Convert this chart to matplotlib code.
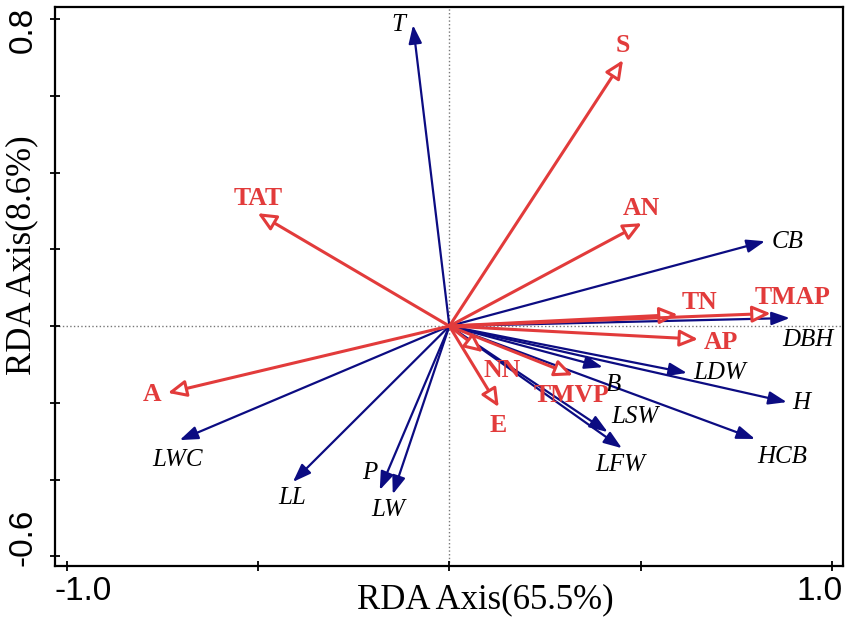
import matplotlib.pyplot as plt

# biological variables (blue, filled heads)
bio_names = ['T', 'CB', 'DBH', 'LDW', 'H', 'HCB', 'B', 'LSW', 'LFW', 'LWC', 'LL', 'P', 'LW']
bio_x = [-0.095, 0.825, 0.890, 0.621, 0.882, 0.799, 0.401, 0.414, 0.451, -0.705, -0.409, -0.182, -0.148]
bio_y = [0.784, 0.221, 0.021, -0.122, -0.198, -0.294, -0.107, -0.276, -0.318, -0.297, -0.406, -0.427, -0.438]

# environmental variables (red, open heads)
env_names = ['S', 'AN', 'TAT', 'TN', 'TMAP', 'AP', 'A', 'NN', 'E', 'TMVP']
env_x = [0.454, 0.503, -0.501, 0.597, 0.840, 0.650, -0.736, 0.088, 0.129, 0.323]
env_y = [0.693, 0.268, 0.294, 0.030, 0.033, -0.034, -0.174, -0.068, -0.211, -0.128]

x_ticks = [-1.0, -0.5, 0.0, 0.5, 1.0]
y_ticks = [-0.6, -0.4, -0.2, 0.0, 0.2, 0.4, 0.6, 0.8]
x_label = 'RDA Axis(65.5%)'
y_label = 'RDA Axis(8.6%)'

# label offsets from arrow tips (pixels)
bio_off = {'T': (-15, 0), 'CB': (23, -1), 'DBH': (18, -22), 'LDW': (33, 0), 'H': (14, -1),
           'HCB': (27, -18), 'B': (11, -18), 'LSW': (27, 15), 'LFW': (-2, -17),
           'LWC': (-2, -20), 'LL': (-1, -16), 'P': (-10, 17), 'LW': (-5, -16)}
env_off = {'S': (0, 15), 'AN': (0, 15), 'TAT': (0, 15), 'TN': (22, 12), 'TMAP': (22, 16),
           'AP': (23, -3), 'A': (-16, -2), 'NN': (19, -18), 'E': (-1, -18), 'TMVP': (-1, -20)}

blue = '#0c0c82'
red = '#e23b3b'
serif = 'Liberation Serif'
sans = 'Liberation Sans'

fig = plt.figure(figsize=(8.51, 6.24), dpi=100)
ax = fig.add_axes([0.0646, 0.0929, 0.926, 0.8958])
ax.set_xlim(-1.031, 1.029)
ax.set_ylim(-0.625, 0.831)

ax.axhline(0, color='#777777', ls=':', lw=1, zorder=1)
ax.axvline(0, color='#777777', ls=':', lw=1, zorder=1)

for name, x, y in zip(bio_names, bio_x, bio_y):
    ax.annotate('', xy=(x, y), xytext=(0, 0),
                arrowprops=dict(arrowstyle='-|>,head_length=0.55,head_width=0.2',
                                mutation_scale=20, color=blue, lw=1.6,
                                shrinkA=0, shrinkB=0), zorder=2)
    ax.annotate(name, xy=(x, y), xytext=bio_off[name], textcoords='offset pixels',
                ha='center', va='center', fontsize=18, style='italic',
                family=serif, color='black', zorder=4)

for name, x, y in zip(env_names, env_x, env_y):
    ax.annotate('', xy=(x, y), xytext=(0, 0),
                arrowprops=dict(arrowstyle='-|>,head_length=0.55,head_width=0.25',
                                mutation_scale=20, ec=red, fc='white', lw=2.2,
                                shrinkA=0, shrinkB=0), zorder=3)
    ax.annotate(name, xy=(x, y), xytext=env_off[name], textcoords='offset pixels',
                ha='center', va='center', fontsize=18.5, weight='bold',
                family=serif, color=red, zorder=4)

ax.set_xticks(x_ticks)
ax.set_yticks(y_ticks)
ax.set_xticklabels([])
ax.set_yticklabels([])
ax.tick_params(direction='inout', length=7, width=1.3)
for s in ax.spines.values():
    s.set_linewidth(1.6)

# end tick labels only, pulled inside like the original
ax.text(0.0, -0.045, f'{x_ticks[0]:.1f}', transform=ax.transAxes, ha='left', va='center',
        fontsize=24, family=sans)
ax.text(1.0, -0.045, f'{x_ticks[-1]:.1f}', transform=ax.transAxes, ha='right', va='center',
        fontsize=24, family=sans)
ax.text(-0.04, 1.0, f'{y_ticks[-1]:.1f}', transform=ax.transAxes, ha='center', va='top',
        rotation=90, fontsize=24, family=sans)
ax.text(-0.04, 0.0, f'{y_ticks[0]:.1f}', transform=ax.transAxes, ha='center', va='bottom',
        rotation=90, fontsize=24, family=sans)

ax.set_xlabel(x_label, fontsize=25, family=serif, va='center', ha='center')
ax.set_ylabel(y_label, fontsize=25, family=serif, va='center', ha='center')
ax.xaxis.set_label_coords(0.546, -0.061)
ax.yaxis.set_label_coords(-0.042, 0.556)

fig.savefig('out.png', dpi=100)
